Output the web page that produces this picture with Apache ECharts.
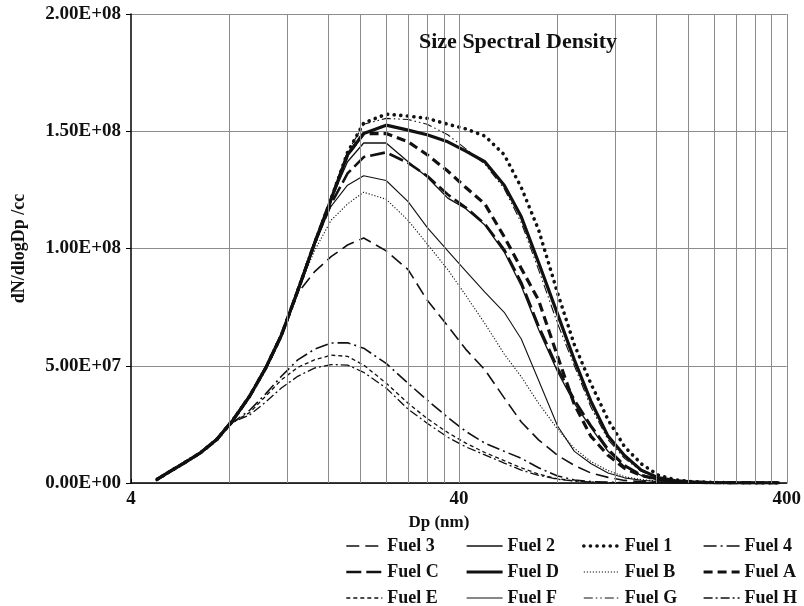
<!DOCTYPE html>
<html><head><meta charset="utf-8">
<script src="https://cdn.jsdelivr.net/npm/echarts@6/dist/echarts.min.js"></script>
<style>html,body{margin:0;padding:0;background:#fff}#c{width:804px;height:606px}</style>
</head><body><div id="c"></div>
<script>
// particle diameter (nm)
const dp = [4.8,5.2,5.8,6.5,7.3,8.2,9.2,10.3,11.5,12.9,14.5,16.3,18.3,20.5,24,28,32,37,42,48,55,62,70,80,90,101,114,128,144,162,182,205,230,260,295,335,380];
// dN/dlogDp values in units of 1E+06 /cc
const fuel1 = [1.5,4.5,8.5,12.8,18.5,27,37,49,63,82,102,121,141,153.5,157.3,156.5,155.5,153,151,148,140,126,108,81,59,42.5,27,15.5,8.2,3.4,1.4,0.6,0.3,0.15,0.08,0.04,0.02];
const fuel2 = [1.5,4.5,8.5,12.8,18.5,27,37,49,63,82,102,121,137,145,145,137,130.5,121.5,117,110,98.5,84,65.5,47.5,34,23.7,13.5,7,3.2,1.4,0.6,0.3,0.15,0.07,0.04,0.02,0.01];
const fuel3 = [1.5,4.5,8.5,12.8,18.5,27,37,49,63,81,90,96.5,101.5,104.5,99,91,78,67,57,48.3,36.3,26,18.4,11.8,7.5,4.3,2.4,1.1,0.6,0.3,0.15,0.08,0.04,0.02,0.01,0.01,0];
const fuel4 = [1.5,4.5,8.5,12.8,18.5,26,31,38,45.5,52.5,57,59.7,59.8,57.5,51,42.5,35.4,28,22,17,13.5,10.5,6.5,3,1.3,0.6,0.3,0.15,0.08,0.04,0.02,0.01,0,0,0,0,0];
const fuelA = [1.5,4.5,8.5,12.8,18.5,27,37,49,63,82,102,121,140,149,149,145.5,140,133,126,119,105,91.5,78,54,33.5,20,11.8,6.3,3.2,1.5,0.7,0.3,0.15,0.07,0.04,0.02,0.01];
const fuelB = [1.5,4.5,8.5,12.8,18.5,27,37,49,63,82,99,112,119,124,121,112,102,91,80,68,55,45.3,34,23,14.8,9.2,5.3,2.7,1.5,0.8,0.4,0.2,0.1,0.05,0.03,0.01,0];
const fuelC = [1.5,4.5,8.5,12.8,18.5,27,37,49,63,82,102,119,132,139,141,136.5,131,123,117.5,110.5,99.5,85.5,67,49,35.5,24.5,14.5,7.5,3.4,1.5,0.6,0.3,0.15,0.07,0.04,0.02,0.01];
const fuelD = [1.5,4.5,8.5,12.8,18.5,27,37,49,63,82,102,121,140,149,152.6,150.5,148.5,145.5,141.5,137,127,113.5,94,72,52.5,35,20,11.7,5.5,2.3,1.0,0.45,0.2,0.1,0.05,0.03,0.02];
const fuelE = [1.5,4.5,8.5,12.8,18.5,26,30,37,44,49.3,52.5,54.5,54,50.3,42.6,34,27.5,21.5,17,13,9.5,6.5,3.8,1.8,0.9,0.45,0.2,0.1,0.05,0.02,0.01,0,0,0,0,0,0];
const fuelF = [1.5,4.5,8.5,12.8,18.5,27,37,49,63,82,102,118,127,131,129,120,109,99,90.4,81.4,72.8,61.4,43.8,24.3,13.5,8.3,4.3,2.2,1.2,0.6,0.3,0.15,0.07,0.04,0.02,0.01,0];
const fuelG = [1.5,4.5,8.5,12.8,18.5,27,37,49,63,82,102,121,141,153,155.5,155,153,148.5,142.5,136,125.5,111,91,68,50,32.5,18.5,10.5,5,2,0.9,0.4,0.2,0.1,0.05,0.02,0.01];
const fuelH = [1.5,4.5,8.5,12.8,18.5,26,29,34.5,40.5,45.5,49,50.5,50.3,47.2,40.5,31.5,25.5,19.5,15.4,12,8.5,5.5,3.3,1.6,0.8,0.4,0.2,0.1,0.05,0.02,0.01,0,0,0,0,0,0];

const xTickLabels = [4, 40, 400];
const xGridValues = [8,12,16,20,24,28,32,36,40,80,120,160,200,240,280,320,360,400];

const FONT = 'Liberation Serif';
const INK = '#111';

function pts(vals){ return dp.map((d,i)=>[d, vals[i]*1e6]); }
function fmtE(v){
  if (v === 0) return '0.00E+00';
  const e = Math.floor(Math.log10(v) + 1e-9);
  const m = v / Math.pow(10, e);
  return m.toFixed(2) + 'E+' + (e < 10 ? '0' + e : e);
}

const styles = {
  'Fuel 1': {values: fuel1, lineStyle:{width:3.6, type:[0.1,6.5], cap:'round'}},
  'Fuel 2': {values: fuel2, lineStyle:{width:1.3, type:'solid'}},
  'Fuel 3': {values: fuel3, lineStyle:{width:1.6, type:[13,6]}},
  'Fuel 4': {values: fuel4, lineStyle:{width:1.6, type:[13,4,2,4]}},
  'Fuel A': {values: fuelA, lineStyle:{width:3.2, type:[9,5]}},
  'Fuel B': {values: fuelB, lineStyle:{width:1.1, type:[1.2,1.8]}},
  'Fuel C': {values: fuelC, lineStyle:{width:2.6, type:[15,5]}},
  'Fuel D': {values: fuelD, lineStyle:{width:3.2, type:'solid'}},
  'Fuel E': {values: fuelE, lineStyle:{width:1.3, type:[4,3]}},
  'Fuel F': {values: fuelF, lineStyle:{width:1.1, type:'solid'}},
  'Fuel G': {values: fuelG, lineStyle:{width:1.1, type:[9,3,1.5,3,1.5,3]}},
  'Fuel H': {values: fuelH, lineStyle:{width:1.3, type:[9,3,2,3]}}
};

function lineStyleOf(name){ return Object.assign({color: '#111', cap: 'butt'}, styles[name].lineStyle); }

const series = Object.keys(styles).map(name => ({
  name: name,
  type: 'line',
  data: pts(styles[name].values),
  symbol: 'none',
  smooth: false,
  z: 3,
  lineStyle: lineStyleOf(name),
  itemStyle: {color: '#111'},
  emphasis: {disabled: true},
  silent: true
}));

series.push({
  type: 'line',
  data: [],
  symbol: 'none',
  z: 1,
  silent: true,
  markLine: {
    silent: true,
    symbol: ['none','none'],
    label: {show: false},
    lineStyle: {color: '#8c8c8c', width: 1, type: 'solid'},
    emphasis: {disabled: true},
    data: xGridValues.map(v => ({xAxis: v}))
  }
});

const legendCols = [
  {left: 345, data: ['Fuel 3','Fuel C','Fuel E']},
  {left: 465, data: ['Fuel 2','Fuel D','Fuel F']},
  {left: 582, data: ['Fuel 1','Fuel B','Fuel G']},
  {left: 702, data: ['Fuel 4','Fuel A','Fuel H']}
];

const chart = echarts.init(document.getElementById('c'), null, {renderer: 'canvas'});
chart.setOption({
  animation: false,
  backgroundColor: '#fff',
  title: {
    text: 'Size Spectral Density',
    left: 414, top: 26,
    textStyle: {fontFamily: FONT, fontWeight: 'bold', fontSize: 22, color: INK}
  },
  legend: legendCols.map(c => ({
    orient: 'vertical',
    left: c.left, top: 537, height: 100, padding: 0,
    itemWidth: 36, itemHeight: 14, itemGap: 8,
    selectedMode: false,
    itemStyle: {opacity: 0},
    data: c.data.map(n => ({name: n, lineStyle: lineStyleOf(n)})),
    textStyle: {fontFamily: FONT, fontWeight: 'bold', fontSize: 18, color: INK}
  })),
  grid: {left: 131, right: 15, top: 14, bottom: 123, containLabel: false},
  xAxis: {
    type: 'log', logBase: 10, min: 4, max: 400,
    name: 'Dp (nm)', nameLocation: 'middle', nameGap: 30,
    nameTextStyle: {fontFamily: FONT, fontWeight: 'bold', fontSize: 17, color: INK, padding: [0, 40, 0, 0]},
    axisLine: {show: true, onZero: false, lineStyle: {color: '#000', width: 1.5}},
    axisTick: {show: true, inside: true, length: 4, customValues: xTickLabels, lineStyle: {color: '#000'}},
    minorTick: {show: false},
    splitLine: {show: false},
    axisLabel: {
      customValues: xTickLabels,
      formatter: v => String(Math.round(v)),
      fontFamily: FONT, fontWeight: 'bold', fontSize: 19, color: INK, margin: 7
    }
  },
  yAxis: {
    type: 'value', min: 0, max: 2e8, interval: 5e7,
    name: 'dN/dlogDp /cc', nameLocation: 'middle', nameGap: 103,
    nameTextStyle: {fontFamily: FONT, fontWeight: 'bold', fontSize: 18, color: INK},
    axisLine: {show: true, lineStyle: {color: '#000', width: 1.5}},
    axisTick: {show: true, inside: false, length: 5, lineStyle: {color: '#000'}},
    splitLine: {show: true, lineStyle: {color: '#8c8c8c', width: 1}},
    axisLabel: {
      formatter: v => fmtE(v),
      fontFamily: FONT, fontWeight: 'bold', fontSize: 19, color: INK, margin: 10
    }
  },
  series: series
});
</script>
</body></html>
